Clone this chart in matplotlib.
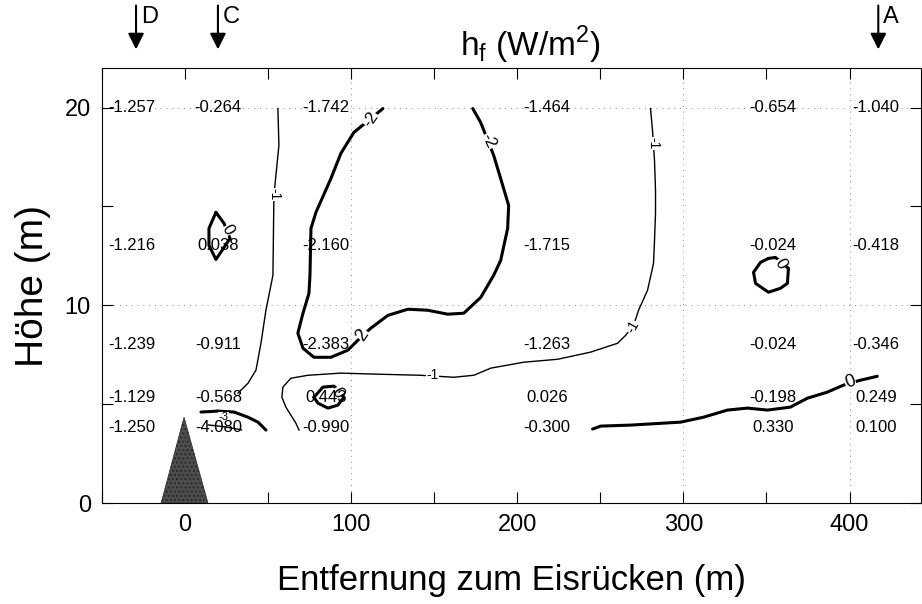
import matplotlib.pyplot as plt
from matplotlib.ticker import MultipleLocator

plt.rcParams['font.family'] = ['Liberation Sans', 'DejaVu Sans']

# measurement columns (distance to ridge, m) and heights (m)
col_x = [-32, 20, 85, 218, 354, 416]
row_y = [20.0, 13.0, 8.0, 5.35, 3.8]

# h_f values (W/m^2), one list per height
hf_20 = ['-1.257', '-0.264', '-1.742', '-1.464', '-0.654', '-1.040']
hf_13 = ['-1.216', '0.038', '-2.160', '-1.715', '-0.024', '-0.418']
hf_8 = ['-1.239', '-0.911', '-2.383', '-1.263', '-0.024', '-0.346']
hf_5 = ['-1.129', '-0.568', '0.443', '0.026', '-0.198', '0.249']
hf_4 = ['-1.250', '-4.080', '-0.990', '-0.300', '0.330', '0.100']

# isolines
c2_x = [119.1, 101.6, 93.8, 87.8, 78.8, 75.8, 75.2, 74.6, 71.0, 67.9, 71.0, 77.6, 87.8, 98.0,
        107.0, 111.8, 122.1, 134.1, 146.1, 158.1, 167.8, 178.0, 185.8, 190.0, 194.2, 194.8,
        190.0, 185.8, 178.0, 173.2]
c2_y = [19.95, 18.74, 17.68, 16.41, 14.70, 13.89, 11.52, 10.61, 9.60, 8.59, 7.83, 7.37, 7.37,
        7.73, 8.48, 8.84, 9.49, 9.80, 9.75, 9.55, 9.60, 10.40, 11.52, 12.27, 13.89, 15.05,
        16.41, 17.58, 19.24, 19.95]
c1a_x = [55.9, 56.5, 53.5, 52.9, 48.7, 45.7, 42.7, 37.9, 31.9]
c1a_y = [19.95, 18.08, 15.56, 11.52, 9.75, 8.08, 6.72, 6.06, 5.56]
c1b_x = [280.2, 281.4, 282.6, 283.2, 283.2, 282.6, 282.0, 278.4, 273.0, 270.0, 265.2, 260.4,
         244.1, 224.3, 203.8, 184.0, 173.8, 161.8, 141.9, 113.6, 93.8, 74.0, 63.7, 58.9, 58.3,
         60.7, 66.7, 68.6]
c1b_y = [19.95, 18.84, 17.32, 15.81, 14.65, 13.28, 12.12, 10.76, 9.75, 8.99, 8.48, 8.08, 7.63,
         7.27, 7.12, 6.82, 6.46, 6.36, 6.46, 6.52, 6.57, 6.46, 6.31, 5.86, 5.35, 4.85, 4.04, 3.69]
c3_x = [9.6, 19.8, 29.5, 37.9, 43.9, 48.7]
c3_y = [4.60, 4.65, 4.60, 4.34, 4.09, 3.69]
c3b_x = [14.0, 24.0, 34.0]
c3b_y = [3.95, 3.85, 3.70]
c0a_x = [77.6, 83.0, 89.6, 93.8, 95.6, 92.0, 86.0, 80.0, 77.6]
c0a_y = [5.35, 5.86, 5.91, 5.61, 5.35, 4.95, 4.80, 5.05, 5.35]
c0b_x = [18.6, 23.5, 27.1, 18.6, 14.4, 14.4, 18.6]
c0b_y = [14.70, 14.14, 13.38, 12.32, 13.03, 13.89, 14.70]
c0c_x = [351.2, 346.4, 342.2, 343.4, 351.2, 358.4, 362.6, 363.2, 355.4, 351.2]
c0c_y = [12.37, 12.17, 11.67, 11.11, 10.66, 10.86, 11.11, 11.87, 12.42, 12.37]
c0d_x = [245.3, 250.2, 268.2, 298.3, 312.1, 326.5, 338.5, 350.6, 364.4, 374.6, 386.7, 396.3,
         406.5, 416.7]
c0d_y = [3.74, 3.89, 3.94, 4.09, 4.34, 4.70, 4.80, 4.70, 4.85, 5.30, 5.61, 5.96, 6.21, 6.41]

# (x, y, text, rotation, size) for isoline labels
iso_labels = [(111.8, 19.4, '-2', 55, 12), (107.0, 8.5, '2', 55, 13), (182.8, 18.3, '-2', -65, 12),
              (53.5, 15.6, '-1', -90, 10), (149.1, 6.45, '-1', 0, 10), (269.4, 8.9, '-1', 60, 10),
              (281.8, 18.2, '-1', -90, 10), (22.9, 4.35, '-3', 0, 8),
              (92.0, 5.6, '0', -60, 12), (25.9, 13.8, '0', -60, 12),
              (358.4, 12.1, '0', -60, 12), (400.5, 6.1, '0', 20, 13)]

ridge_x = [-14.4, -0.6, 13.8]
ridge_y = [0, 4.34, 0]

stations = [(-29.5, 'D'), (19.8, 'C'), (417.3, 'A')]

grid_x = [100, 300, 400]
grid_y = [10, 20]

fig = plt.figure(figsize=(9.22, 6.04), dpi=100)
ax = fig.add_axes([0.1106, 0.1672, 0.8883, 0.7202])
ax.set_xlim(-50, 443)
ax.set_ylim(0, 22)

ax.xaxis.set_major_locator(MultipleLocator(100))
ax.xaxis.set_minor_locator(MultipleLocator(50))
ax.yaxis.set_major_locator(MultipleLocator(10))
ax.yaxis.set_minor_locator(MultipleLocator(5))
ax.tick_params(which='both', direction='in', top=True, right=True, length=8, width=0.8)
ax.tick_params(labelsize=17, pad=8)
for s in ax.spines.values():
    s.set_linewidth(0.8)

# sparse dotted guide lines
for gx in grid_x:
    ax.axvline(gx, linestyle=(0, (1, 5)), color='0.55', linewidth=0.7, zorder=1)
for gy in grid_y:
    ax.axhline(gy, linestyle=(0, (1, 5)), color='0.55', linewidth=0.7, zorder=1)

ax.fill(ridge_x, ridge_y, facecolor='#4d4d4d', edgecolor='#2a2a2a', hatch='....', lw=0.5, zorder=3)

thick = dict(color='k', lw=2.2, solid_capstyle='round', zorder=4)
thin = dict(color='k', lw=1.0, zorder=4)
ax.plot(c2_x, c2_y, **thick)
ax.plot(c1a_x, c1a_y, **thin)
ax.plot(c1b_x, c1b_y, **thin)
ax.plot(c3_x, c3_y, **thick)
ax.plot(c3b_x, c3b_y, **thin)
ax.plot(c0a_x, c0a_y, **thick)
ax.plot(c0b_x, c0b_y, **thick)
ax.plot(c0c_x, c0c_y, **thick)
ax.plot(c0d_x, c0d_y, **thick)

for lx, ly, lt, rot, sz in iso_labels:
    ax.text(lx, ly, lt, rotation=rot, fontsize=sz, ha='center', va='center', zorder=5,
            bbox=dict(facecolor='white', edgecolor='none', pad=0.3))

rows = [hf_20, hf_13, hf_8, hf_5, hf_4]
for y, vals in zip(row_y, rows):
    for x, v in zip(col_x, vals):
        ax.text(x, y, v, fontsize=12, ha='center', va='center', zorder=6)

for sx, name in stations:
    ax.annotate('', xy=(sx, 22.8), xytext=(sx, 25.3), annotation_clip=False,
                arrowprops=dict(arrowstyle='-|>', color='k', lw=1.5, mutation_scale=24))
    ax.text(sx + 3, 24.6, name, fontsize=17, ha='left', va='center', clip_on=False)

fig.text(0.575, 0.925, r'h$_\mathregular{f}$ (W/m$^\mathregular{2}$)', fontsize=24,
         ha='center', va='center')
ax.set_xlabel('Entfernung zum Eisrücken (m)', fontsize=25, labelpad=20)
ax.set_ylabel('Höhe (m)', fontsize=28, labelpad=10)

fig.savefig('out.png', dpi=100)
